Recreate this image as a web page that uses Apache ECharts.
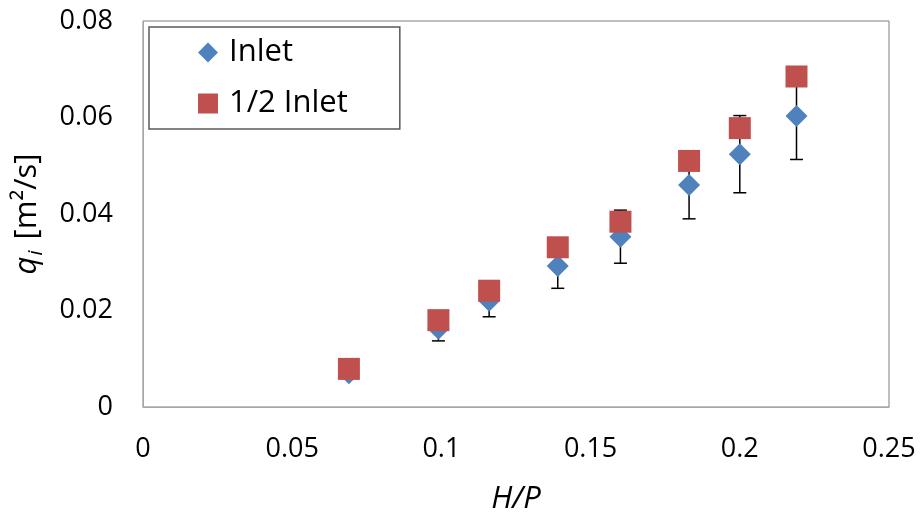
<!DOCTYPE html>
<html>
<head>
<meta charset="utf-8">
<script src="https://cdn.jsdelivr.net/npm/echarts@6/dist/echarts.min.js"></script>
<style>
  html, body { margin: 0; padding: 0; background: #fff; }
  #chart { width: 920px; height: 520px; }
</style>
</head>
<body>
<div id="chart"></div>
<script>
// H/P values
const hp = [0.069, 0.099, 0.116, 0.139, 0.160, 0.183, 0.200, 0.219];
// q_i for the inlet and the half inlet
const inlet = [0.0070, 0.0162, 0.0220, 0.0292, 0.0353, 0.0460, 0.0524, 0.0603];
const halfInlet = [0.0079, 0.0180, 0.0241, 0.0331, 0.0384, 0.0510, 0.0578, 0.0685];
// error bars (+/-) on the inlet series
const inletErr = [0.0010, 0.0025, 0.0033, 0.0046, 0.0055, 0.0070, 0.0080, 0.0090];

const font = "'Open Sans', sans-serif";

const chart = echarts.init(document.getElementById("chart"));

const option = {
  animation: false,
  textStyle: { fontFamily: font, color: "#000" },
  grid: {
    left: 143, right: 31, top: 21, bottom: 113,
    show: true, borderColor: "#7f7f7f", borderWidth: 1
  },
  legend: {
    left: 149, top: 27,
    orient: "vertical",
    padding: [10, 52, 10, 49],
    itemGap: 20,
    itemWidth: 20, itemHeight: 20,
    borderColor: "#595959", borderWidth: 1.5,
    textStyle: { fontFamily: font, fontSize: 31, color: "#000", lineHeight: 30, padding: [0, 0, 0, 6] },
    data: [
      { name: "Inlet", icon: "diamond" },
      { name: "1/2 Inlet", icon: "rect" }
    ]
  },
  xAxis: {
    type: "value",
    min: 0, max: 0.25, interval: 0.05,
    name: "H/P",
    nameLocation: "middle",
    nameGap: 77,
    nameTextStyle: { fontFamily: font, fontSize: 31, fontStyle: "italic", color: "#000" },
    axisLine: { show: true, lineStyle: { color: "#a6a6a6", width: 1 } },
    axisTick: { show: false },
    splitLine: { show: false },
    axisLabel: { fontFamily: font, fontSize: 27, color: "#000", margin: 29 }
  },
  yAxis: {
    type: "value",
    min: 0, max: 0.08, interval: 0.02,
    name: "{it|q}{sub|i} [m²/s]",
    nameLocation: "middle",
    nameGap: 97,
    nameTextStyle: {
      fontFamily: font, fontSize: 31, color: "#000",
      rich: {
        it: { fontFamily: font, fontSize: 31, fontStyle: "italic", color: "#000" },
        sub: { fontFamily: font, fontSize: 20, fontStyle: "italic", color: "#000", padding: [18, 3, 0, 1] }
      }
    },
    axisLine: { show: true, lineStyle: { color: "#a6a6a6", width: 1 } },
    axisTick: { show: false },
    splitLine: { show: false },
    axisLabel: {
      fontFamily: font, fontSize: 27, color: "#000", margin: 30,
      formatter: (v) => String(+v.toFixed(2))
    }
  },
  series: [
    {
      name: "errors",
      type: "custom",
      z: 1,
      data: hp.map((x, i) => [x, inlet[i], inletErr[i]]),
      renderItem: (params, api) => {
        const x = api.value(0), y = api.value(1), e = api.value(2);
        const top = api.coord([x, y + e]);
        const bot = api.coord([x, y - e]);
        const hw = 6.5;
        const st = { stroke: "#000", lineWidth: 1.5 };
        return {
          type: "group",
          children: [
            { type: "line", shape: { x1: top[0], y1: top[1], x2: bot[0], y2: bot[1] }, style: st },
            { type: "line", shape: { x1: top[0] - hw, y1: top[1], x2: top[0] + hw, y2: top[1] }, style: st },
            { type: "line", shape: { x1: bot[0] - hw, y1: bot[1], x2: bot[0] + hw, y2: bot[1] }, style: st }
          ]
        };
      }
    },
    {
      name: "Inlet",
      type: "scatter",
      z: 2,
      symbol: "diamond",
      symbolSize: 22,
      itemStyle: { color: "#4F81BD", opacity: 1 },
      data: hp.map((x, i) => [x, inlet[i]])
    },
    {
      name: "1/2 Inlet",
      type: "scatter",
      z: 3,
      symbol: "rect",
      symbolSize: 22,
      itemStyle: { color: "#C0504D", opacity: 1 },
      data: hp.map((x, i) => [x, halfInlet[i]])
    }
  ]
};

chart.setOption(option);
</script>
</body>
</html>
